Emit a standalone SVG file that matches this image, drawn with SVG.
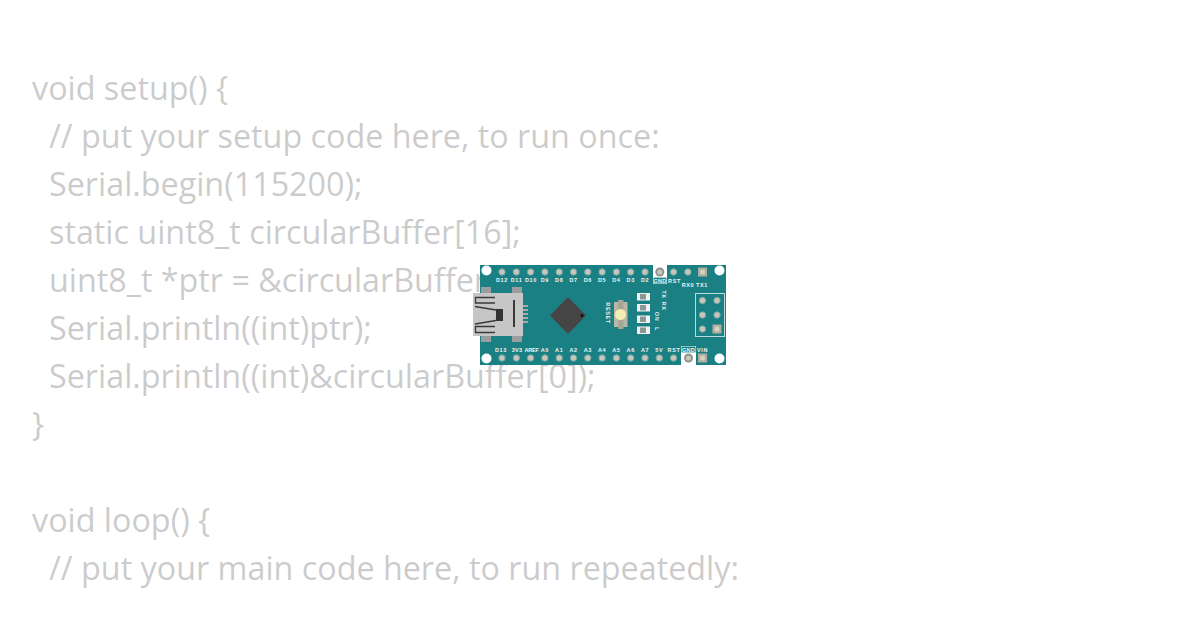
<svg xmlns="http://www.w3.org/2000/svg" width="1200" height="630" viewBox="0 0 1200 630">
<style>
.c{font-family:"Open Sans","Noto Sans",sans-serif;font-size:32.3px;fill:#000000}
.l{font-family:"Liberation Sans",Arial,sans-serif;font-size:5.500px;font-weight:700;fill:#f0f4f4;text-anchor:middle;letter-spacing:.6px}
.w{fill:#ffffff}
.p{fill:#c9c5b8;stroke:#6fa6a5;stroke-width:1}
.led{fill:#8c9896}
</style>
<rect width="1200" height="630" fill="#ffffff"/>
<g id="code" opacity="0.2">
<text class="c" x="32" y="100">void setup() {</text>
<text class="c" x="49" y="148">// put your setup code here, to run once:</text>
<text class="c" x="49" y="196">Serial.begin(115200);</text>
<text class="c" x="49" y="244">static uint8_t circularBuffer[16];</text>
<text class="c" x="49" y="292">uint8_t *ptr = &amp;circularBuffer[0];</text>
<text class="c" x="49" y="340">Serial.println((int)ptr);</text>
<text class="c" x="49" y="388">Serial.println((int)&amp;circularBuffer[0]);</text>
<text class="c" x="32" y="436">}</text>
<text class="c" x="32" y="532">void loop() {</text>
<text class="c" x="49" y="580">// put your main code here, to run repeatedly:</text>
</g>
<g id="board">
<rect x="480" y="265" width="246" height="100" fill="#1a8083"/>
<circle class="w" cx="486.500" cy="270.500" r="5"/><circle class="w" cx="719.500" cy="270.500" r="5"/>
<circle class="w" cx="486.500" cy="358.500" r="5"/><circle class="w" cx="719.500" cy="358.500" r="5"/>
<rect class="w" x="653" y="265" width="14" height="13"/>
<rect x="653.250" y="277.250" width="13.500" height="6.500" fill="#1a8083" stroke="#ffffff" stroke-width=".5"/>
<rect class="w" x="681" y="352" width="15" height="13"/>
<rect x="681.250" y="346.250" width="14.500" height="6.500" fill="#1a8083" stroke="#ffffff" stroke-width=".5"/>
<g id="pins-top">
<circle class="p" cx="502" cy="272" r="3.200"/><circle class="p" cx="516.300" cy="272" r="3.200"/><circle class="p" cx="530.600" cy="272" r="3.200"/><circle class="p" cx="544.900" cy="272" r="3.200"/><circle class="p" cx="559.200" cy="272" r="3.200"/><circle class="p" cx="573.500" cy="272" r="3.200"/><circle class="p" cx="587.800" cy="272" r="3.200"/><circle class="p" cx="602.100" cy="272" r="3.200"/><circle class="p" cx="616.400" cy="272" r="3.200"/><circle class="p" cx="630.700" cy="272" r="3.200"/><circle class="p" cx="645" cy="272" r="3.200"/><circle class="p" cx="673.600" cy="272" r="3.200"/><circle class="p" cx="687.900" cy="272" r="3.200"/>
<circle cx="659.800" cy="272" r="4.500" fill="#8f9390"/><circle cx="659.800" cy="272" r="2.600" fill="#c9c5b8"/>
<rect x="698" y="267.500" width="9" height="9" fill="#b0aea0"/><circle cx="702.500" cy="272" r="2.500" fill="#d8d2c0"/>
</g>
<g id="pins-bottom">
<circle class="p" cx="502" cy="358" r="3.200"/><circle class="p" cx="516.300" cy="358" r="3.200"/><circle class="p" cx="530.600" cy="358" r="3.200"/><circle class="p" cx="544.900" cy="358" r="3.200"/><circle class="p" cx="559.200" cy="358" r="3.200"/><circle class="p" cx="573.500" cy="358" r="3.200"/><circle class="p" cx="587.800" cy="358" r="3.200"/><circle class="p" cx="602.100" cy="358" r="3.200"/><circle class="p" cx="616.400" cy="358" r="3.200"/><circle class="p" cx="630.700" cy="358" r="3.200"/><circle class="p" cx="645" cy="358" r="3.200"/><circle class="p" cx="659.300" cy="358" r="3.200"/><circle class="p" cx="673.600" cy="358" r="3.200"/>
<circle cx="688.500" cy="358" r="4.500" fill="#8f9390"/><circle cx="688.500" cy="358" r="2.600" fill="#c9c5b8"/>
<rect x="698" y="353.500" width="9" height="9" fill="#b0aea0"/><circle cx="702.500" cy="358" r="2.500" fill="#d8d2c0"/>
</g>
<g id="labels-top">
<text class="l" x="502" y="282">D12</text><text class="l" x="516.500" y="282">D11</text><text class="l" x="531" y="282">D10</text><text class="l" x="544.900" y="282">D9</text><text class="l" x="559.200" y="282">D8</text><text class="l" x="573.500" y="282">D7</text><text class="l" x="587.800" y="282">D6</text><text class="l" x="602.100" y="282">D5</text><text class="l" x="616.400" y="282">D4</text><text class="l" x="630.700" y="282">D3</text><text class="l" x="645" y="282">D2</text><text class="l" x="660" y="282.500" style="letter-spacing:.2px">GND</text><text class="l" x="674.500" y="282.500">RST</text><text class="l" x="688" y="287">RX0</text><text class="l" x="702" y="287">TX1</text>
</g>
<g id="labels-bottom">
<text class="l" x="501" y="351.500">D13</text><text class="l" x="517" y="351.500" style="letter-spacing:.3px">3V3</text><text class="l" x="531.500" y="351.500" style="letter-spacing:-.2px">AREF</text><text class="l" x="544.900" y="351.500">A0</text><text class="l" x="559.200" y="351.500">A1</text><text class="l" x="573.500" y="351.500">A2</text><text class="l" x="587.800" y="351.500">A3</text><text class="l" x="602.100" y="351.500">A4</text><text class="l" x="616.400" y="351.500">A5</text><text class="l" x="630.700" y="351.500">A6</text><text class="l" x="645" y="351.500">A7</text><text class="l" x="659.300" y="351.500">5V</text><text class="l" x="674" y="351.500">RST</text><text class="l" x="688.500" y="351.500" style="letter-spacing:.2px">GND</text><text class="l" x="702.500" y="351.500">VIN</text>
</g>
<g id="usb">
<rect x="481" y="287" width="10" height="7" fill="#9d9d9d"/><rect x="512" y="287" width="10" height="7" fill="#9d9d9d"/>
<rect x="481" y="335" width="10" height="7" fill="#9d9d9d"/><rect x="512" y="335" width="10" height="7" fill="#9d9d9d"/>
<g fill="#a8a8a8"><rect x="523" y="305" width="5" height="2"/><rect x="523" y="309" width="5" height="2"/><rect x="523" y="313" width="5" height="2"/><rect x="523" y="317" width="5" height="2"/><rect x="523" y="321" width="5" height="2"/></g>
<rect x="473" y="293" width="50" height="43" fill="#c6c6c6"/>
<path d="M495 297.500H475.500V303H495M475 306.500L496 310M475 324L496 320.500M495 326.500H475.500V332.500H495" fill="none" stroke="#3a3a3a" stroke-width="1.300"/>
<rect x="496" y="309" width="7" height="12" fill="#333333"/>
<rect x="513" y="300" width="2" height="27" fill="#3a3a3a"/>
</g>
<g id="chip">
<polygon points="568,297 586,315.500 568,334 550,315.500" fill="#454545"/>
<circle cx="582" cy="315.500" r="1.600" fill="#111111"/>
</g>
<g id="reset">
<rect x="614" y="302" width="13.500" height="25" fill="#b9b8a8"/>
<rect x="618" y="300" width="5.500" height="29" fill="#a6a596"/>
<circle cx="620.500" cy="314.500" r="5.500" fill="#f4eeb4"/>
<text class="l" transform="translate(605.500 313) rotate(90)">RESET</text>
</g>
<g id="leds">
<rect x="637" y="293" width="13" height="7.500" fill="#f2f2f2"/><rect x="640" y="294" width="6" height="5.500" class="led"/>
<rect x="637" y="304" width="13" height="7.500" fill="#f2f2f2"/><rect x="640" y="305" width="6" height="5.500" class="led"/>
<rect x="637" y="315.500" width="13" height="7.500" fill="#f2f2f2"/><rect x="640" y="316.500" width="6" height="5.500" class="led"/>
<rect x="637" y="326.500" width="13" height="7.500" fill="#f2f2f2"/><rect x="640" y="327.500" width="6" height="5.500" class="led"/>
<text class="l" transform="translate(662 294.500) rotate(90)">TX</text>
<text class="l" transform="translate(662 306) rotate(90)">RX</text>
<text class="l" transform="translate(654.500 316.500) rotate(90)">ON</text>
<text class="l" transform="translate(654.500 329) rotate(90)">L</text>
</g>
<g id="icsp">
<rect x="695.500" y="293.500" width="29" height="43" fill="none" stroke="#bcd8d8" stroke-width="1"/>
<circle class="p" cx="702.500" cy="300.500" r="3.200"/><circle class="p" cx="717" cy="300.500" r="3.200"/><circle class="p" cx="702.500" cy="315" r="3.200"/><circle class="p" cx="717" cy="315" r="3.200"/><circle class="p" cx="702.500" cy="329" r="3.200"/>
<rect x="712.500" y="324.500" width="9" height="9" fill="#b0aea0"/><circle cx="717" cy="329" r="2.500" fill="#d8d2c0"/>
</g>
</g>
</svg>
